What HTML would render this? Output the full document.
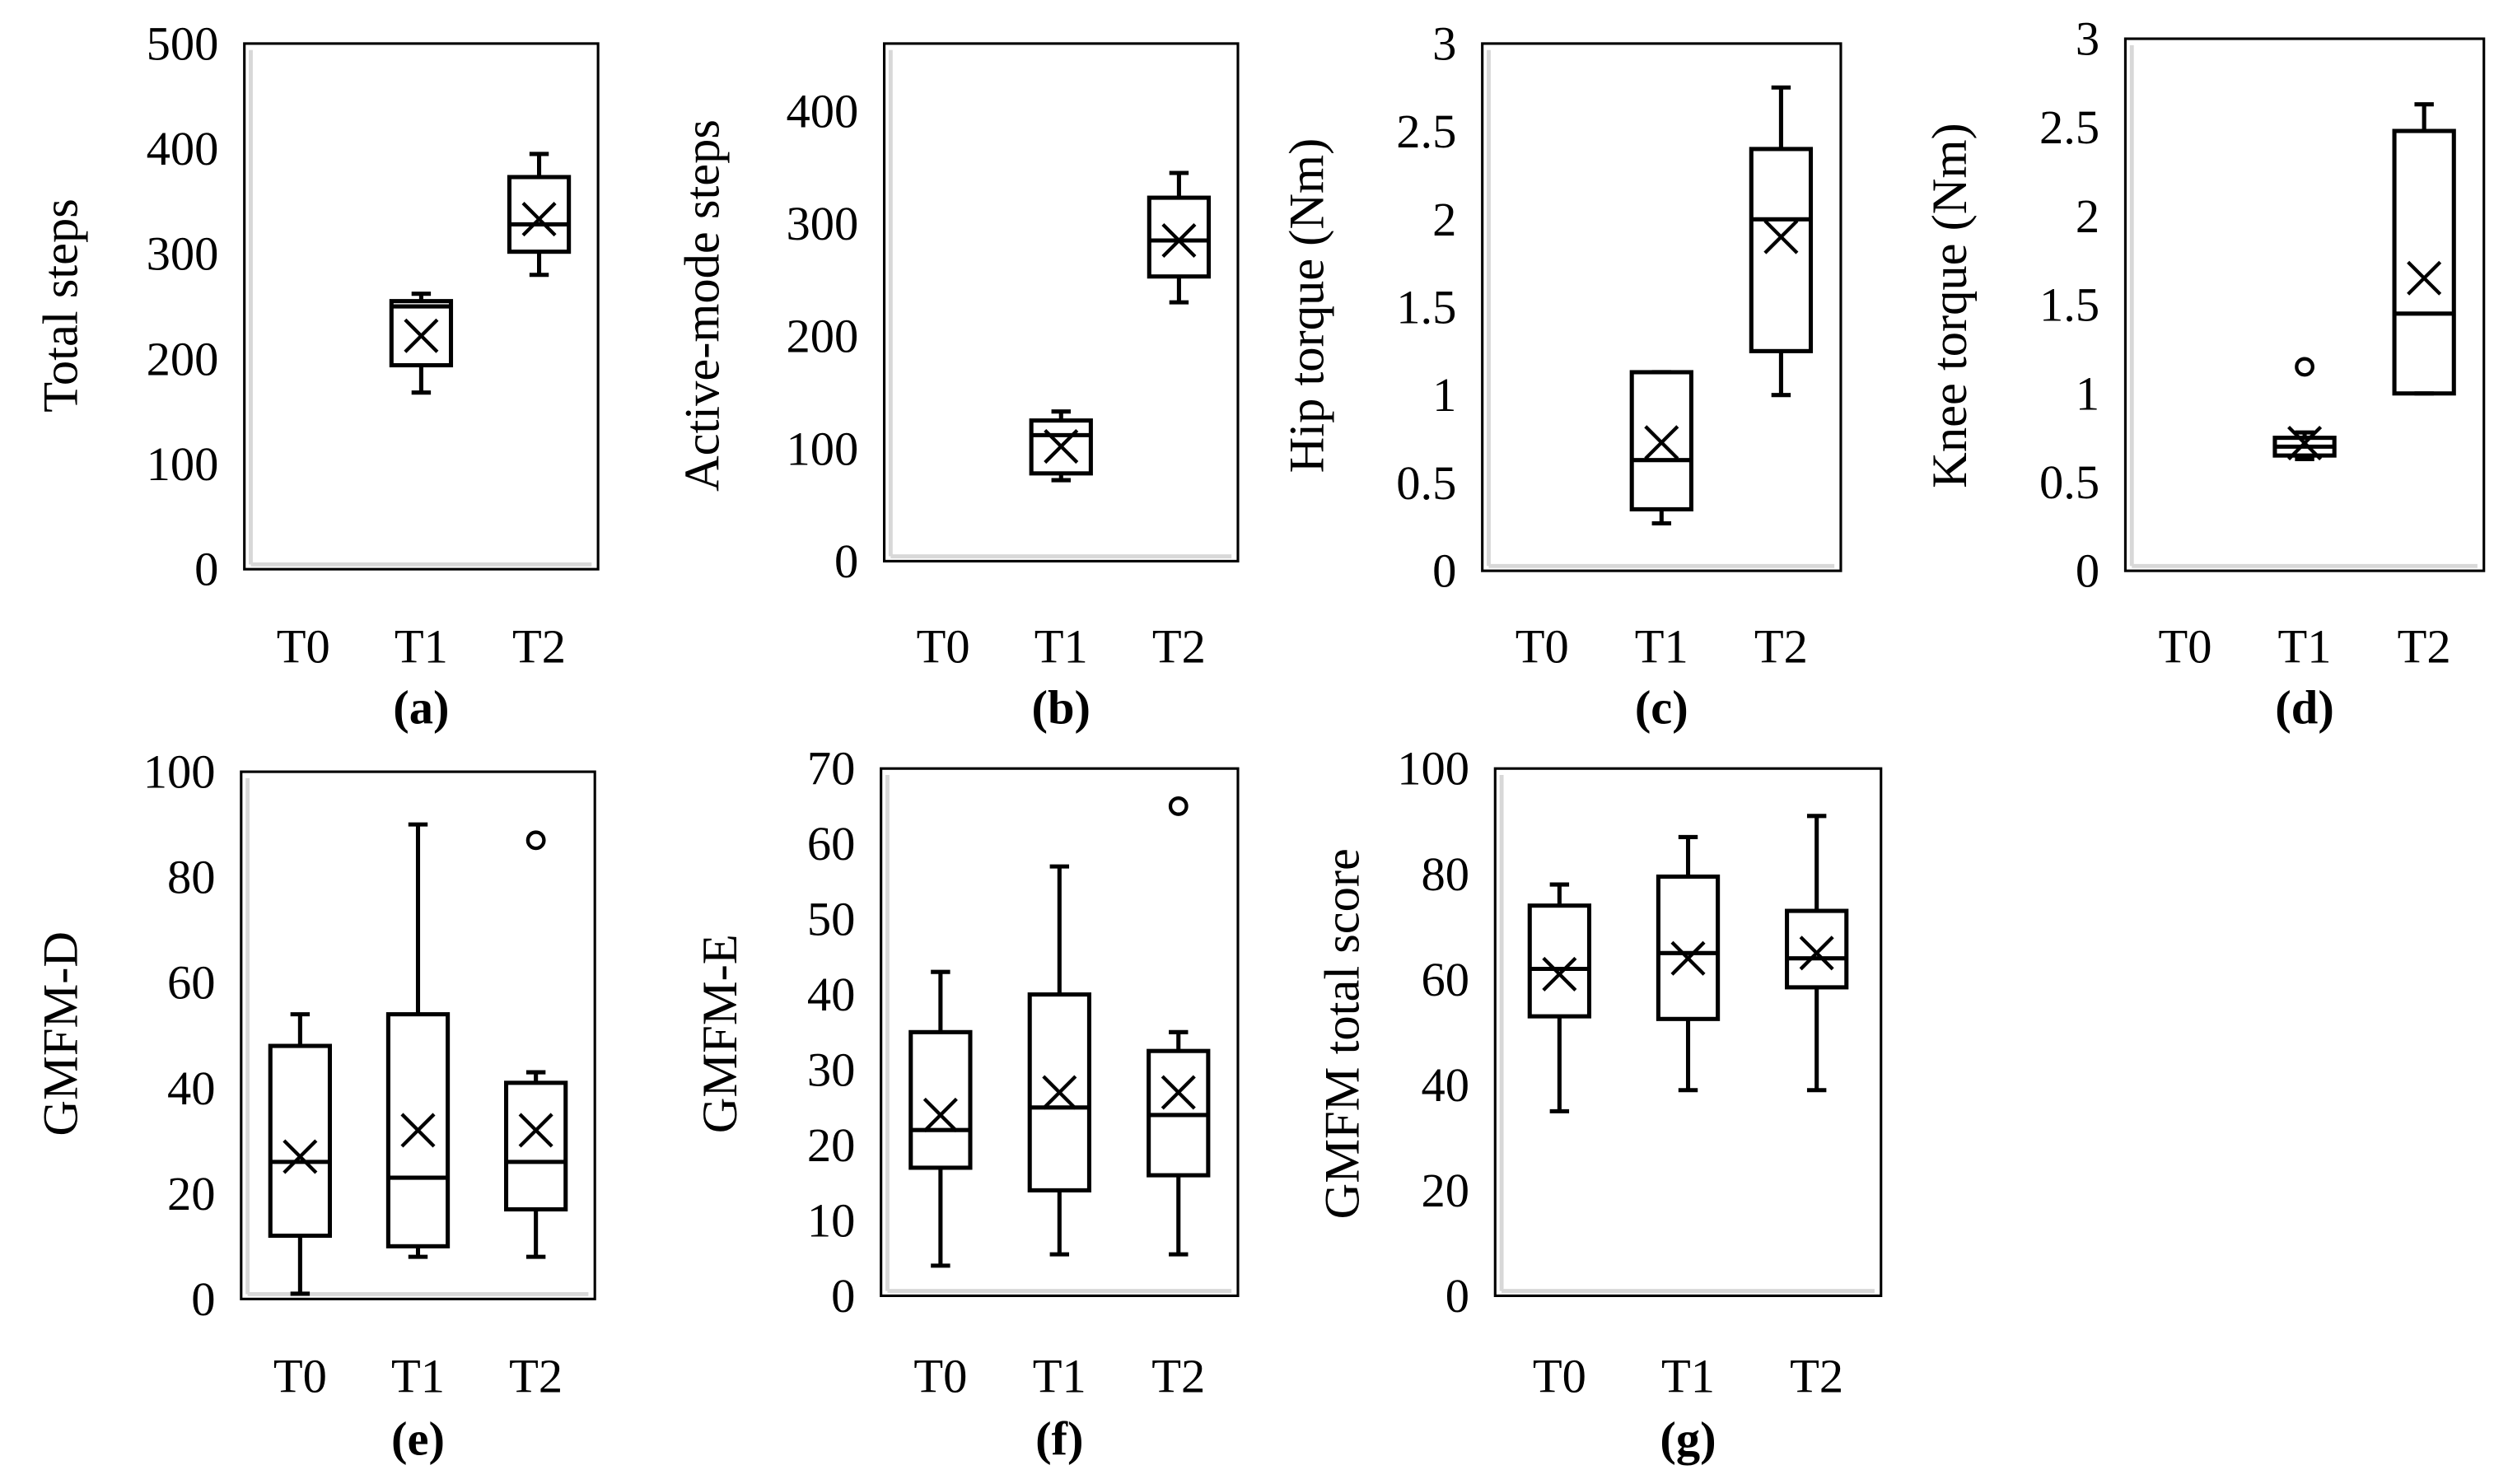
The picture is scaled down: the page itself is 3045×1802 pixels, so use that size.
<!DOCTYPE html>
<html><head><meta charset="utf-8"><style>
html,body{margin:0;padding:0;background:#fff;}
svg{display:block;font-family:"Liberation Serif",serif;}
</style></head><body>
<svg id="fig" width="3045" height="1802" viewBox="0 0 1560 923" xmlns="http://www.w3.org/2000/svg"></svg>
<script>
// panel geometry
const frames=[[152,27,372,354],[550,27,770,349],[922,27,1145,355],[1322,24,1545,355],[150,480,370,808],[548,478,770,806],[930,478,1170,806]];
const yMax=[500,460,3,3,100,70,100];
const tickStep=[100,100,0.5,0.5,20,10,20];
const yTitles=["Total steps","Active-mode steps","Hip torque (Nm)","Knee torque (Nm)","GMFM-D","GMFM-E","GMFM total score"];
const yTitleX=[38,437,813,1213,38,448,835];
const letters=["(a)","(b)","(c)","(d)","(e)","(f)","(g)"];
const categories=["T0","T1","T2"];
// data per panel [T0,T1,T2]
const wLo=[[null,168,280],[null,72,230],[null,0.27,1.0],[null,0.63,1.0],[1,8,8],[4,5.5,5.5],[35,39,39]];
const wHi=[[null,262,395],[null,133,345],[null,1.13,2.75],[null,0.78,2.63],[54,90,43],[43,57,35],[78,87,91]];
const q1=[[null,194,302],[null,78,253],[null,0.35,1.25],[null,0.65,1.0],[12,10,17],[17,14,16],[53,52.5,58.5]];
const q3=[[null,255,373],[null,125,323],[null,1.13,2.4],[null,0.75,2.48],[48,54,41],[35,40,32.5],[74,79.5,73]];
const med=[[null,250,328],[null,112,285],[null,0.63,2.0],[null,0.70,1.45],[26,23,26],[22,25,24],[62,65,64]];
const mean=[[null,222,333],[null,102,285],[null,0.73,1.9],[null,0.72,1.65],[27,32,32],[24,27,27],[61,64,65]];
const outliers=[[[],[],[]],[[],[],[]],[[],[],[]],[[],[1.15],[]],[[],[],[87]],[[],[],[65]],[[],[],[]]];

const NS="http://www.w3.org/2000/svg";
const svg=document.getElementById('fig');
function mk(tag,attrs,parent){const e=document.createElementNS(NS,tag);for(const k in attrs)e.setAttribute(k,attrs[k]);(parent||svg).appendChild(e);return e;}
frames.forEach((f,p)=>{
  const [x0,y0,x1,y1]=f;
  const g=mk('g',{});
  
  
  const ys=v=>y1-(v/yMax[p])*(y1-y0);
  const slot=(x1-x0)/3;
  const xs=i=>x0+slot*(i+0.5);
  mk('line',{x1:x0+4,y1:y0+4,x2:x0+4,y2:y1-3,stroke:'#d8d8d8','stroke-width':2.5},g);
  mk('line',{x1:x0+4,y1:y1-3,x2:x1-4,y2:y1-3,stroke:'#d8d8d8','stroke-width':2.5},g);
  const fr=mk('rect',{x:x0,y:y0,width:x1-x0,height:y1-y0,fill:'none',stroke:'#000','stroke-width':1.6},g);
  
  
  const n=Math.floor(yMax[p]/tickStep[p]+1e-9);
  for(let k=0;k<=n;k++){
    const v=k*tickStep[p];
    const t=mk('text',{x:x0-16,y:ys(v)+10,'text-anchor':'end','font-size':30},g);
    t.textContent=String(Math.round(v*10)/10);
    
    
  }
  const cy=(p<4?190:643);
  const yt=mk('text',{x:yTitleX[p],y:cy,'text-anchor':'middle','font-size':31,transform:`rotate(-90 ${yTitleX[p]} ${cy})`,dy:10},g);
  yt.textContent=yTitles[p];
  
  
  const xl=(p<4?412:866), lt=(p<4?450:905);
  categories.forEach((c,i)=>{
    const t=mk('text',{x:xs(i),y:xl,'text-anchor':'middle','font-size':30},g);
    t.textContent=c;
    
    
  });
  const L=mk('text',{x:(x0+x1)/2,y:lt,'text-anchor':'middle','font-size':30,'font-weight':'bold'},g);
  L.textContent=letters[p];
  
  
  categories.forEach((c,i)=>{
    if(q1[p][i]==null)return;
    const cx=xs(i),bw=18.5,cw=6,sw=2.6;
    const b=mk('g',{stroke:'#000','stroke-width':sw,fill:'none'},g);
    
    
    mk('line',{x1:cx,y1:ys(wHi[p][i]),x2:cx,y2:ys(q3[p][i])},b);
    mk('line',{x1:cx,y1:ys(wLo[p][i]),x2:cx,y2:ys(q1[p][i])},b);
    mk('line',{x1:cx-cw,y1:ys(wHi[p][i]),x2:cx+cw,y2:ys(wHi[p][i])},b);
    mk('line',{x1:cx-cw,y1:ys(wLo[p][i]),x2:cx+cw,y2:ys(wLo[p][i])},b);
    mk('rect',{x:cx-bw,y:ys(q3[p][i]),width:2*bw,height:ys(q1[p][i])-ys(q3[p][i])},b);
    mk('line',{x1:cx-bw,y1:ys(med[p][i]),x2:cx+bw,y2:ys(med[p][i])},b);
    const my=ys(mean[p][i]),h=10;
    mk('path',{d:`M${cx-h} ${my-h}L${cx+h} ${my+h}M${cx+h} ${my-h}L${cx-h} ${my+h}`,'stroke-width':2.2},b);
    outliers[p][i].forEach(o=>{
      const oc=mk('circle',{cx:cx,cy:ys(o),r:5,'stroke-width':2.2},b);
      
      
    });
  });
});
</script>
</body></html>
